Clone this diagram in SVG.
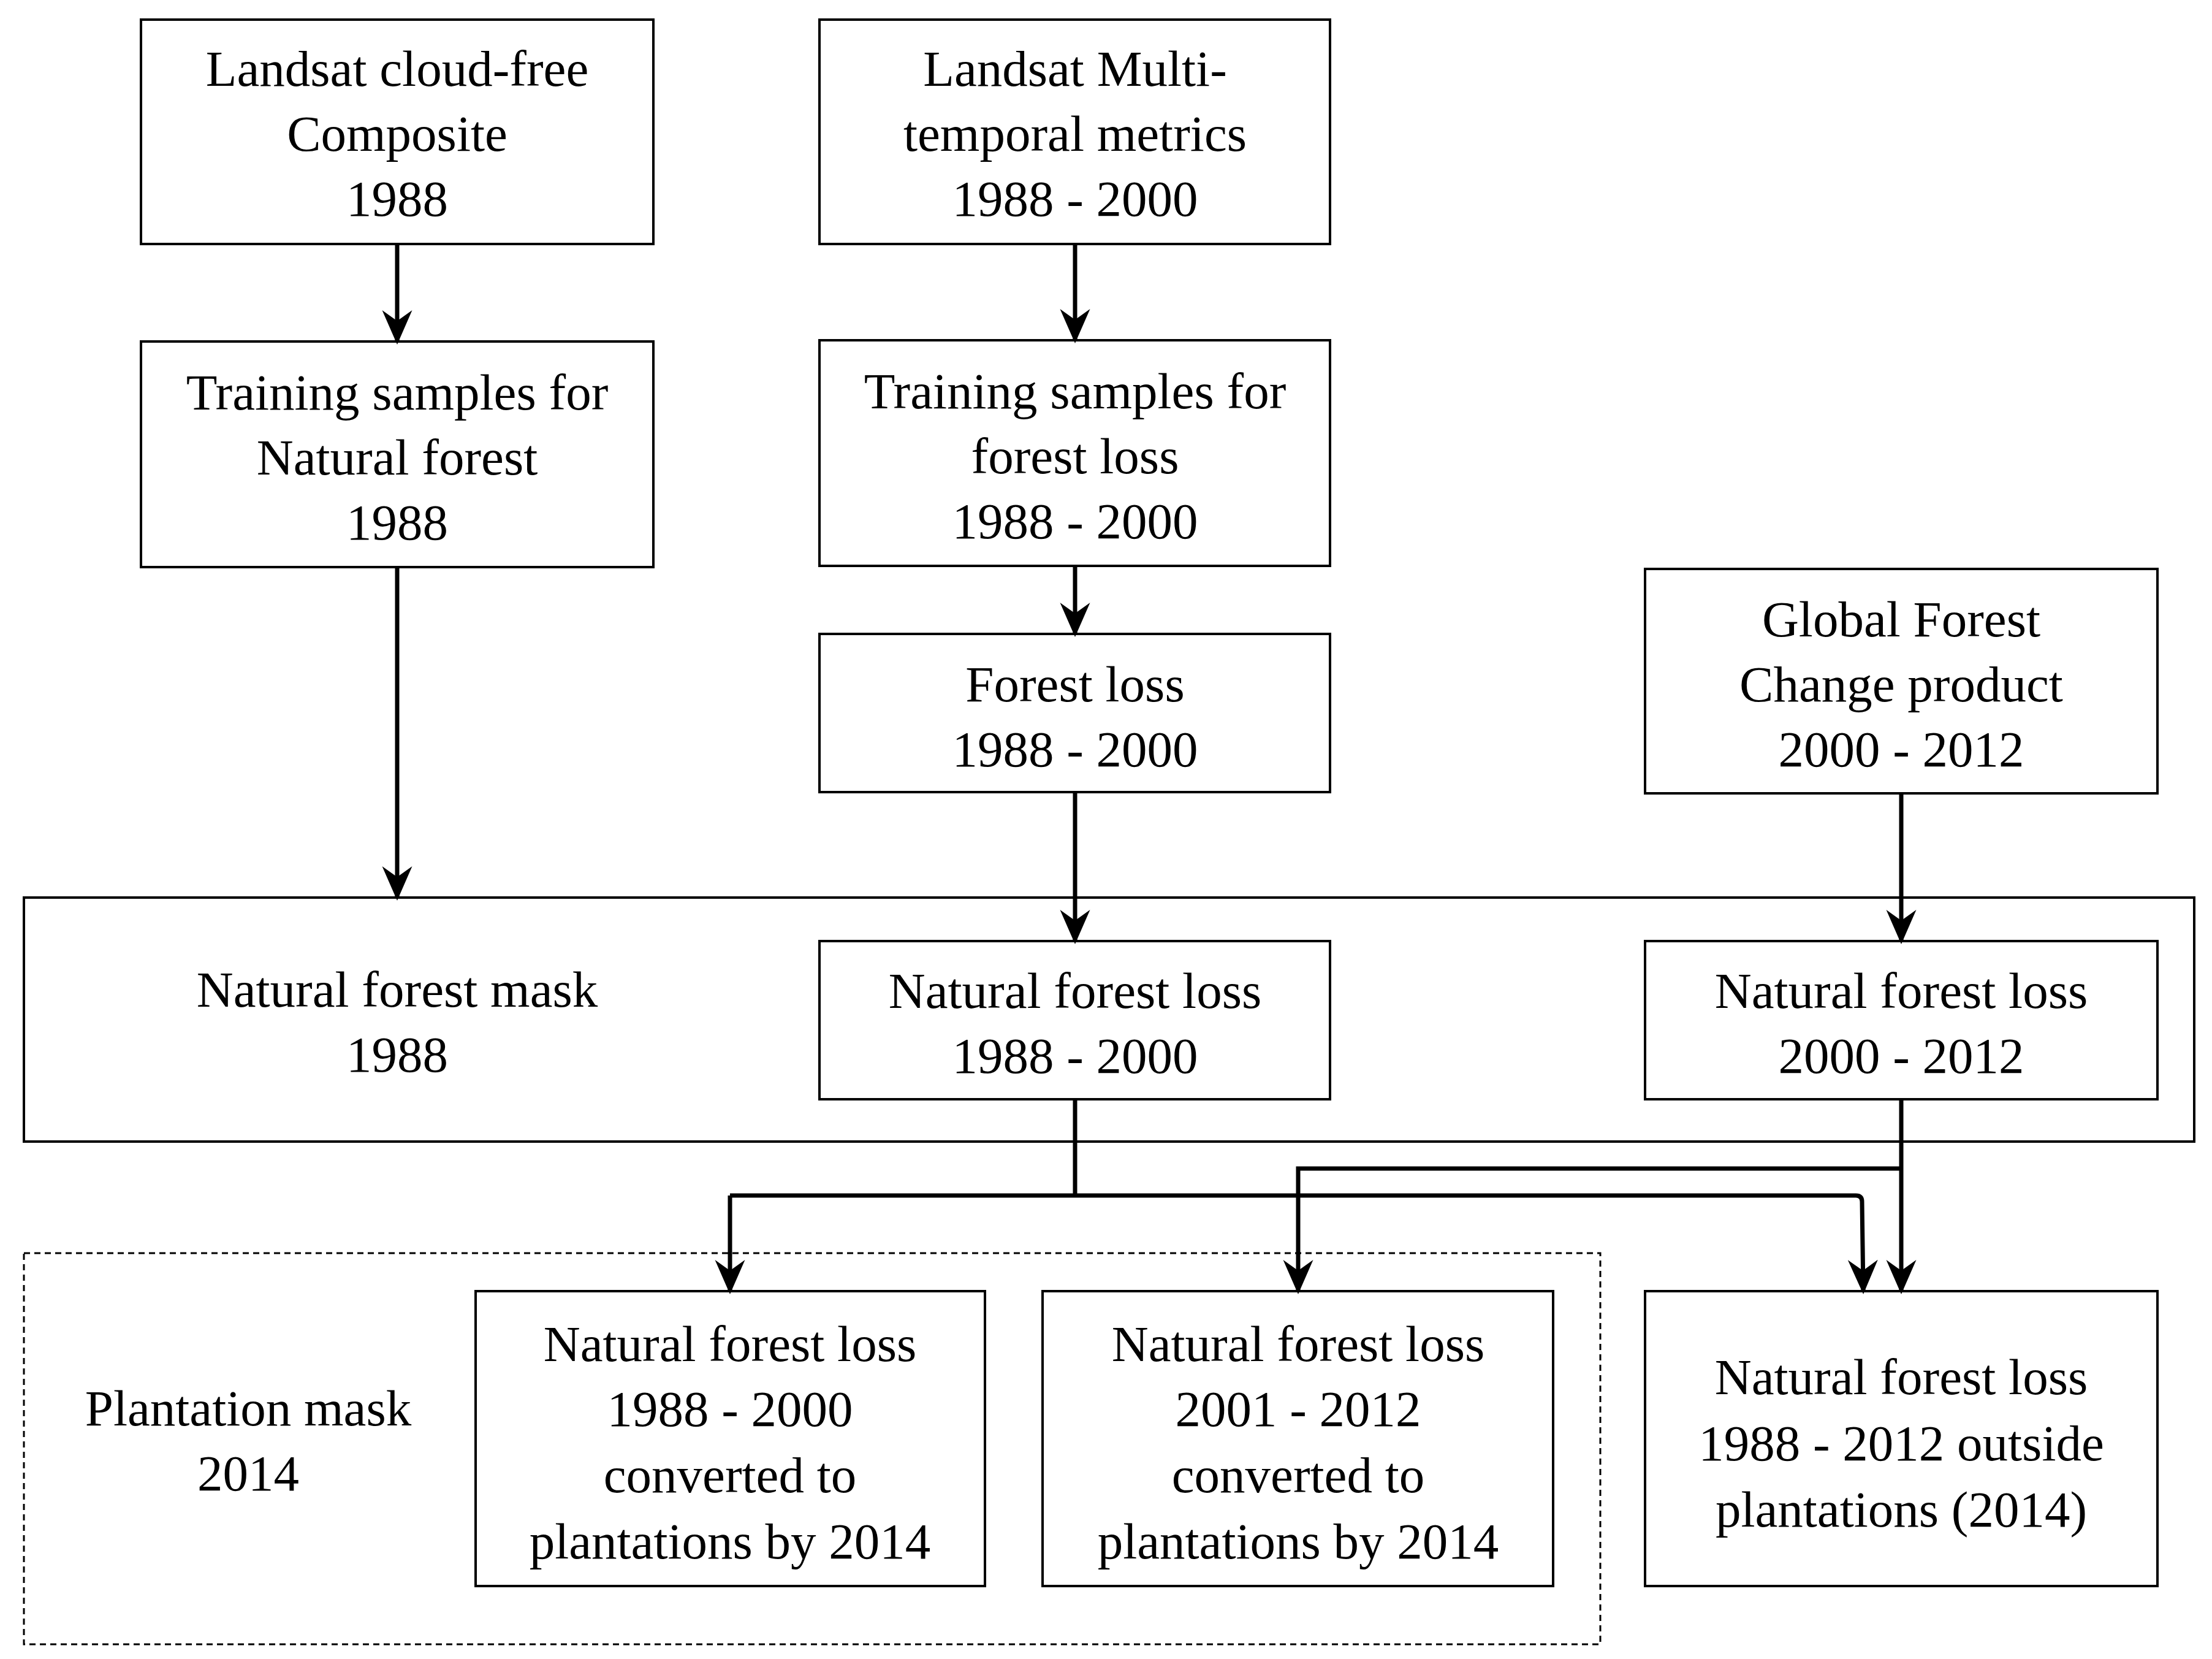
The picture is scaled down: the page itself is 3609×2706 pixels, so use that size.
<svg xmlns="http://www.w3.org/2000/svg" width="3609" height="2706" viewBox="0 0 3609 2706">
<style>
.b{fill:#fff;stroke:#000;stroke-width:4}
.d{fill:none;stroke:#000;stroke-width:3;stroke-dasharray:10 7}
text{font-family:"Liberation Serif","Times New Roman",serif;font-size:83px;text-anchor:middle;fill:#000}
.c{fill:none;stroke:#000;stroke-width:7}
</style>
<defs><marker id="ah" markerWidth="8" markerHeight="8" refX="7" refY="4" orient="auto" markerUnits="strokeWidth"><path d="M0,0.5 L8,4 L0,7.5 L2.5,4 Z" fill="#000"/></marker></defs>
<rect width="3609" height="2706" fill="#fff"/>
<g id="bigbox"><rect class="b" x="39" y="1464" width="3541" height="398"/><text x="648" y="1642">Natural forest mask</text><text x="648" y="1748">1988</text></g>
<g id="plantation"><rect class="d" x="39" y="2044" width="2572" height="638"/><text x="405" y="2325">Plantation mask</text><text x="405" y="2431">2014</text></g>
<g id="A"><rect class="b" x="230" y="32" width="836" height="366"/><text x="648" y="140">Landsat cloud-free</text><text x="648" y="246">Composite</text><text x="648" y="352">1988</text></g>
<g id="B"><rect class="b" x="1337" y="32" width="833" height="366"/><text x="1754" y="140">Landsat Multi-</text><text x="1754" y="246">temporal metrics</text><text x="1754" y="352">1988 - 2000</text></g>
<g id="C"><rect class="b" x="230" y="557" width="836" height="368"/><text x="648" y="668">Training samples for</text><text x="648" y="774">Natural forest</text><text x="648" y="880">1988</text></g>
<g id="D"><rect class="b" x="1337" y="555" width="833" height="368"/><text x="1754" y="666">Training samples for</text><text x="1754" y="772">forest loss</text><text x="1754" y="878">1988 - 2000</text></g>
<g id="E"><rect class="b" x="1337" y="1034" width="833" height="258"/><text x="1754" y="1144">Forest loss</text><text x="1754" y="1250">1988 - 2000</text></g>
<g id="F"><rect class="b" x="2684" y="928" width="836" height="366"/><text x="3102" y="1038">Global Forest</text><text x="3102" y="1144">Change product</text><text x="3102" y="1250">2000 - 2012</text></g>
<g id="G"><rect class="b" x="1337" y="1535" width="833" height="258"/><text x="1754" y="1644">Natural forest loss</text><text x="1754" y="1750">1988 - 2000</text></g>
<g id="H"><rect class="b" x="2684" y="1535" width="836" height="258"/><text x="3102" y="1644">Natural forest loss</text><text x="3102" y="1750">2000 - 2012</text></g>
<g id="I"><rect class="b" x="776" y="2106" width="831" height="481"/><text x="1191" y="2220">Natural forest loss</text><text x="1191" y="2326">1988 - 2000</text><text x="1191" y="2434">converted to</text><text x="1191" y="2542">plantations by 2014</text></g>
<g id="J"><rect class="b" x="1701" y="2106" width="833" height="481"/><text x="2118" y="2220">Natural forest loss</text><text x="2118" y="2326">2001 - 2012</text><text x="2118" y="2434">converted to</text><text x="2118" y="2542">plantations by 2014</text></g>
<g id="K"><rect class="b" x="2684" y="2106" width="836" height="481"/><text x="3102" y="2274">Natural forest loss</text><text x="3102" y="2382">1988 - 2012 outside</text><text x="3102" y="2490">plantations (2014)</text></g>
<g id="connectors">
<path class="c" d="M648 398V555" marker-end="url(#ah)"/>
<path class="c" d="M648 925V1462" marker-end="url(#ah)"/>
<path class="c" d="M1754 398V553" marker-end="url(#ah)"/>
<path class="c" d="M1754 923V1032" marker-end="url(#ah)"/>
<path class="c" d="M1754 1292V1533" marker-end="url(#ah)"/>
<path class="c" d="M3102 1294V1533" marker-end="url(#ah)"/>
<path class="c" d="M1754 1793V1950"/>
<path class="c" d="M1191 1950H3028Q3038 1950 3038 1960L3040 2104" marker-end="url(#ah)"/>
<path class="c" d="M1191 1950V2104" marker-end="url(#ah)"/>
<path class="c" d="M3102 1793V2104" marker-end="url(#ah)"/>
<path class="c" d="M3102 1906H2118V2104" marker-end="url(#ah)"/>
</g>
</svg>
